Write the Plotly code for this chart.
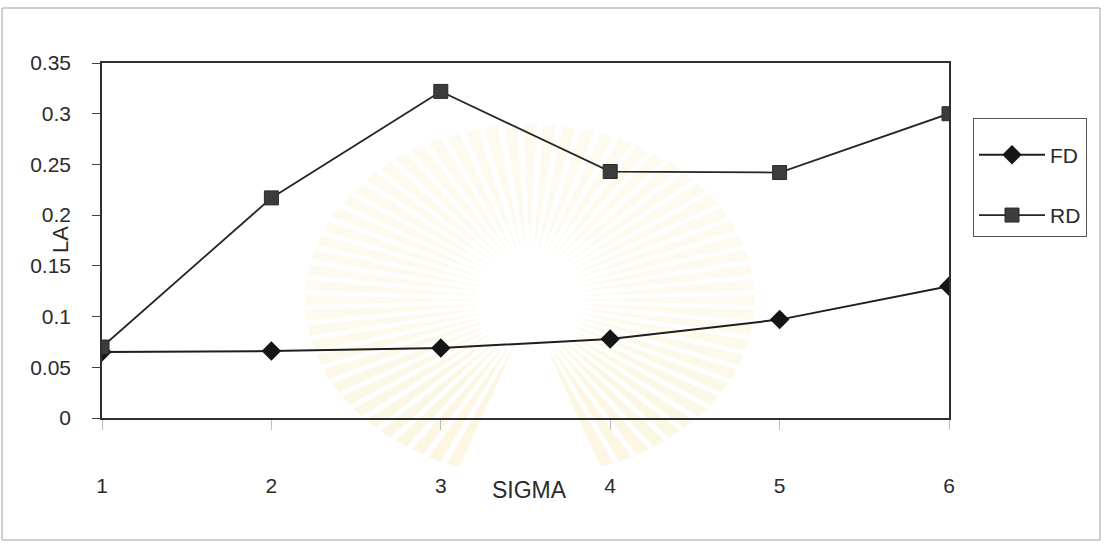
import numpy as np
import plotly.graph_objects as go

# ---- data -------------------------------------------------------------
sigma = [1, 2, 3, 4, 5, 6]
fd_values = [0.065, 0.066, 0.069, 0.078, 0.097, 0.130]
rd_values = [0.070, 0.217, 0.322, 0.243, 0.242, 0.300]
y_tickvals = [0, 0.05, 0.1, 0.15, 0.2, 0.25, 0.3, 0.35]
y_ticktext = ["0", "0.05", "0.1", "0.15", "0.2", "0.25", "0.3", "0.35"]
x_ticktext = ["1", "2", "3", "4", "5", "6"]

# ---- page geometry ------------------------------------------------------
W, H = 1104, 547
ML, MR, MT, MB = 102, 155, 63, 129
PW, PH = W - ML - MR, H - MT - MB


def px(x):
    return (x - ML) / PW


def py(y):
    return (H - MB - y) / PH


FONT = "Liberation Sans, Arial, sans-serif"
INK = "#2b2b2b"

fig = go.Figure()

fig.add_trace(go.Scatter(
    x=sigma, y=fd_values, name="FD", mode="lines+markers",
    line=dict(color="#1e1e1e", width=2),
    marker=dict(symbol="diamond", size=15, color="#151515",
                line=dict(width=0)),
    legendgroup="fd",
))
fig.add_trace(go.Scatter(
    x=sigma, y=rd_values, name="RD", mode="lines+markers",
    line=dict(color="#262626", width=1.8),
    marker=dict(symbol="square", size=14, color="#3c3c3c",
                line=dict(width=1, color="#2a2a2a")),
    legendgroup="rd",
))

# ---- faint sunburst emblem behind the plot -----------------------------
shapes = []
cx, cy = 530, 300
r0, r1 = 55, 225
for ang in np.arange(0, 360, 5.0):
    if 250 < ang < 290:
        continue
    a = np.radians(ang)
    hw_in, hw_out = np.radians(0.5), np.radians(1.7)
    ry = 0.78
    pts = [
        (cx + r0 * np.cos(a - hw_in), cy - r0 * np.sin(a - hw_in)),
        (cx + r1 * np.cos(a - hw_out), cy - r1 * ry * np.sin(a - hw_out)),
        (cx + r1 * np.cos(a + hw_out), cy - r1 * ry * np.sin(a + hw_out)),
        (cx + r0 * np.cos(a + hw_in), cy - r0 * np.sin(a + hw_in)),
    ]
    # upper rays are paler than the lower ones
    alpha = 0.12 + 0.10 * max(0.0, -np.sin(a))
    path = "M " + " L ".join(f"{px(x):.5f},{py(y):.5f}" for x, y in pts) + " Z"
    shapes.append(dict(type="path", xref="paper", yref="paper", path=path,
                       fillcolor=f"rgba(240,214,120,{alpha:.3f})",
                       line=dict(width=0), layer="below"))

# outer frame of the chart
shapes.append(dict(type="rect", xref="paper", yref="paper",
                   x0=px(2), x1=px(1100), y0=py(8), y1=py(540),
                   line=dict(color="#a0a0a0", width=1), layer="below"))

fig.update_layout(
    width=W, height=H,
    margin=dict(l=ML, r=MR, t=MT, b=MB, pad=0),
    paper_bgcolor="white",
    plot_bgcolor="rgba(0,0,0,0)",
    font=dict(family=FONT, size=21, color=INK),
    showlegend=True,
    legend=dict(
        x=px(973), y=py(118), xanchor="left", yanchor="top",
        bordercolor="#555", borderwidth=1, bgcolor="rgba(255,255,255,0)",
        font=dict(family=FONT, size=21, color=INK),
        title=dict(text="&nbsp;", font=dict(size=12)),
        traceorder="grouped", tracegroupgap=30, itemwidth=66,
    ),
    xaxis=dict(
        range=[1, 6], tickvals=sigma, ticktext=x_ticktext,
        showline=True, linecolor="#303030", linewidth=1.5, mirror=True,
        ticks="outside", ticklen=10, tickcolor="#bdbdbd", tickwidth=1,
        ticklabelstandoff=38, showgrid=False, zeroline=False,
        tickfont=dict(family=FONT, size=21, color=INK),
    ),
    yaxis=dict(
        range=[0, 0.35], tickvals=y_tickvals, ticktext=y_ticktext,
        showline=True, linecolor="#303030", linewidth=1.5, mirror=True,
        ticks="outside", ticklen=8, tickcolor="#404040", tickwidth=1,
        ticklabelstandoff=17, showgrid=False, zeroline=False,
        tickfont=dict(family=FONT, size=21, color=INK),
    ),
    yaxis2=dict(
        range=[0, 0.35], tickvals=y_tickvals, overlaying="y", side="left",
        ticks="inside", ticklen=12, tickcolor="#404040", tickwidth=1,
        showticklabels=False, showgrid=False, zeroline=False, showline=False,
    ),
    shapes=shapes,
    annotations=[
        dict(text="LA", xref="paper", yref="paper", x=px(60), y=py(240),
             textangle=-90, showarrow=False, xanchor="center",
             yanchor="middle", font=dict(family=FONT, size=22, color=INK)),
        dict(text="SIGMA", xref="paper", yref="paper", x=px(529), y=py(490),
             showarrow=False, xanchor="center", yanchor="middle",
             font=dict(family=FONT, size=23, color=INK)),
    ],
)

fig.write_html("out.html")
